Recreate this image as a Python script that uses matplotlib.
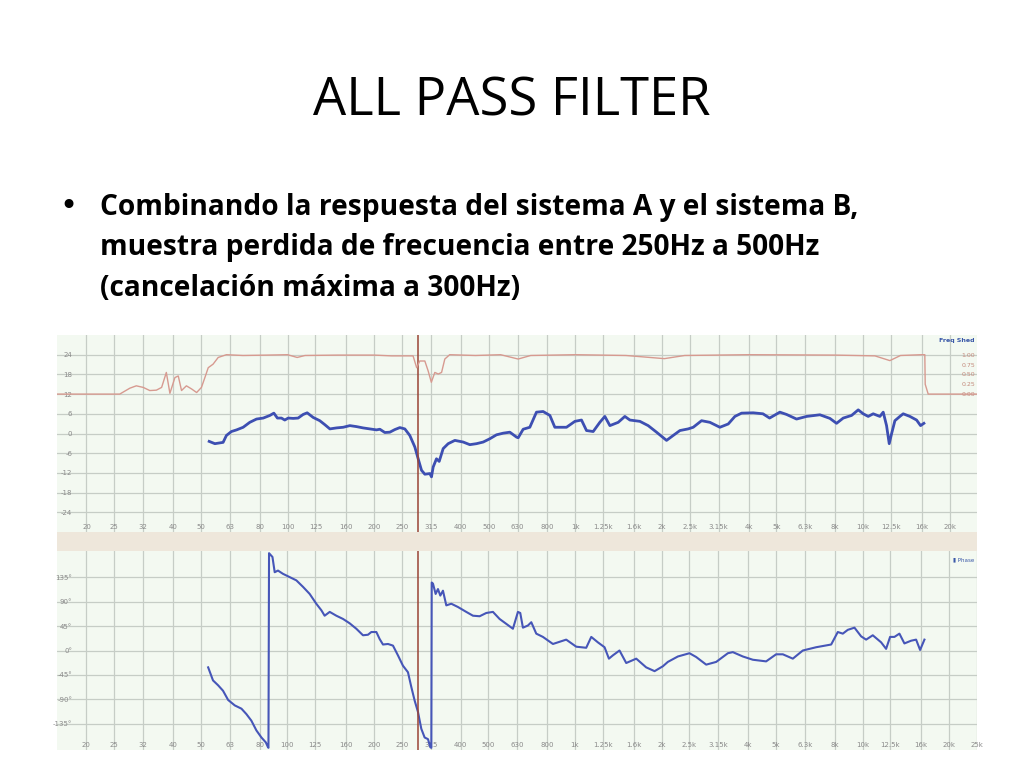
import matplotlib
matplotlib.use("Agg")
import matplotlib.pyplot as plt
from matplotlib.patches import Rectangle

# --- data ---
freq_ticks = [20, 25, 31.5, 40, 50, 63, 80, 100, 125, 160, 200, 250, 315, 400, 500, 630, 800,
              1000, 1250, 1600, 2000, 2500, 3150, 4000, 5000, 6300, 8000, 10000, 12500, 16000, 20000, 25000]
freq_labels = ["20", "25", "32", "40", "50", "63", "80", "100", "125", "160", "200", "250", "315", "400",
               "500", "630", "800", "1k", "1.25k", "1.6k", "2k", "2.5k", "3.15k", "4k", "5k", "6.3k",
               "8k", "10k", "12.5k", "16k", "20k", "25k"]

db_ticks = [24, 18, 12, 6, 0, -6, -12, -18, -24]
phase_ticks = [135, 90, 45, 0, -45, -90, -135]
phase_labels = ["135°", "90°", "45°", "0°", "-45°", "-90°", "-135°"]
coh_ticks = [1.0, 0.75, 0.5, 0.25, 0.0]
coh_labels = ["1.00", "0.75", "0.50", "0.25", "0.00"]

cursor_freq = 284

mag_freq = [53.4, 55.9, 59.7, 61.3, 63.8, 66.5, 70.1, 73.9, 78.0, 82.3, 86.8, 89.6, 92.2, 95.2, 97.8,
            100.5, 104.6, 108.8, 113.3, 117.0, 122.7, 129.4, 134.7, 140.3, 147.9, 156.1, 164.6, 173.6,
            183.1, 193.1, 203.8, 209.3, 217.8, 226.7, 236.0, 245.6, 255.6, 266.0, 276.9, 284.4, 292.1,
            300.0, 312.2, 316.4, 320.7, 329.3, 336.5, 347.4, 361.6, 381.5, 407.6, 430.0, 453.6, 478.6,
            504.7, 532.3, 561.6, 592.3, 624.8, 633.2, 659, 695, 733, 773, 816, 849, 932, 997, 1051,
            1094, 1154, 1217, 1267, 1319, 1410, 1487, 1548, 1677, 1792, 1916, 2076, 2189, 2310, 2468,
            2570, 2747, 2937, 3181, 3401, 3587, 3784, 4154, 4490, 4735, 5141, 5424, 5875, 6366, 7082,
            7673, 8092, 8536, 9125, 9625, 10018, 10425, 10851, 11446, 11756, 12074, 12335, 12567,
            12907, 13432, 13795, 14555, 15352, 15851, 16280]
mag_db = [-2.4, -3.1, -2.7, -0.6, 0.6, 1.1, 1.9, 3.4, 4.4, 4.7, 5.5, 6.2, 4.7, 4.7, 4.1,
          4.7, 4.6, 4.7, 5.8, 6.3, 4.9, 3.9, 2.7, 1.4, 1.7, 1.9, 2.4, 2.1,
          1.7, 1.4, 1.1, 1.3, 0.3, 0.4, 1.2, 1.8, 1.4, -0.6, -4.1, -7.7, -11.2,
          -12.4, -12.2, -13.2, -10.2, -7.7, -8.5, -4.6, -3.1, -2.1, -2.6, -3.4, -3.1, -2.6,
          -1.6, -0.4, 0.1, 0.4, -1.1, -1.3, 1.3, 1.9, 6.5, 6.7, 5.5, 1.9, 1.9, 3.7, 4.1,
          0.9, 0.6, 3.4, 5.2, 2.4, 3.4, 5.2, 4.1, 3.7, 2.4, 0.4, -2.1, -0.6, 0.9, 1.4,
          1.9, 3.9, 3.4, 1.9, 2.9, 5.2, 6.2, 6.3, 6.0, 4.7, 6.5, 5.8, 4.4, 5.2, 5.7,
          4.6, 3.1, 4.7, 5.5, 7.2, 6.0, 5.2, 6.0, 5.2, 6.5, 2.4, -3.1, -0.1,
          3.9, 5.2, 6.0, 5.2, 4.1, 2.4, 3.1]

coh_freq = [15, 26.1, 28.3, 29.8, 31.5, 33.2, 35.0, 36.5, 37.9, 39.0, 40.6, 41.7, 42.8, 44.5, 46.4,
            48.3, 50.2, 51.6, 53.0, 55.1, 57.4, 61.3, 70, 85, 100, 108, 115, 150, 200, 230, 273,
            281, 288, 300, 308, 316, 325, 334, 343, 352, 366, 450, 550, 633, 700, 1000, 1500, 2040,
            2400, 4000, 8000, 11000, 12400, 13500, 16000, 16400, 16450, 16850, 26000]
coh_val = [0.0, 0.0, 0.15, 0.21, 0.17, 0.09, 0.10, 0.17, 0.55, 0.02, 0.42, 0.46, 0.09, 0.21, 0.13,
           0.04, 0.17, 0.42, 0.67, 0.76, 0.93, 1.0, 0.98, 0.99, 1.0, 0.93, 0.98, 0.99, 0.99, 0.97, 0.97,
           0.67, 0.84, 0.84, 0.59, 0.30, 0.55, 0.51, 0.55, 0.89, 1.0, 0.98, 1.0, 0.89, 0.98, 1.0, 0.98, 0.90,
           0.98, 1.0, 0.99, 0.97, 0.85, 0.98, 1.0, 1.0, 0.25, 0.0, 0.0]

phase_freq = [53.0, 55.1, 57.4, 59.7, 62.2, 65.6, 69.2, 72.0, 74.9, 78.0, 81.2, 84.1, 85.6, 85.9, 86.3,
              88.7, 90.3, 92.7, 96.5, 101.8, 107.4, 113.3, 119.5, 126.0, 131.2, 134.7, 140.3, 147.9,
              156.1, 164.6, 173.6, 183.1, 190.6, 195.8, 203.8, 209.3, 214.9, 223.7, 232.8, 242.3, 252.2,
              262.5, 269.6, 276.9, 284.4, 292.1, 300.0, 308.1, 314.0, 316.5, 317.5, 320.7, 327.6, 333.8,
              340.1, 347.4, 356.8, 371.4, 391.7, 418.6, 441.7, 466.0, 491.4, 518.4, 546.7, 576.8, 608.3,
              633.2, 645.1, 659.0, 686.1, 704.7, 733.3, 773.4, 838, 932, 1010, 1094, 1139, 1201, 1267,
              1312, 1354, 1428, 1507, 1633, 1768, 1891, 2021, 2103, 2279, 2501, 2639, 2859, 3097, 3401,
              3539, 3834, 4154, 4620, 5005, 5281, 5721, 6198, 6895, 7777, 8201, 8536, 8885, 9372, 9886,
              10289, 10851, 11603, 12074, 12466, 12907, 13432, 13980, 14751, 15352, 15851, 16411]
phase_deg = [-31, -55, -64, -74, -91, -101, -107, -117, -129, -147, -160, -169, -178, -179, 179,
             172, 144, 147, 141, 135, 129, 117, 104, 86, 74, 64, 71, 64,
             58, 50, 40, 28, 29, 34, 34, 21, 11, 12, 9, -9, -28,
             -40, -67, -92, -113, -144, -160, -163, -178, -179, 125, 123, 104, 113,
             101, 110, 83, 86, 80, 71, 64, 63, 69, 71, 58, 49, 40,
             71, 69, 42, 46, 52, 31, 25, 12, 20, 7, 5, 25, 15, 6,
             -15, -9, 0, -23, -15, -31, -38, -29, -21, -11, -5, -12, -26, -21, -5,
             -3, -11, -17, -20, -7, -7, -15, 0, 6, 11, 34, 31, 38, 42, 26,
             20, 28, 15, 3, 25, 25, 31, 13, 18, 20, 1, 20]

# --- figure ---
W, H = 1024, 768
fig = plt.figure(figsize=(W / 100, H / 100), dpi=100)
fig.patch.set_facecolor("white")


def px_box(x0, y0, x1, y1):
    return [x0 / W, 1 - y1 / H, (x1 - x0) / W, (y1 - y0) / H]


def fit_width(txt, target):
    r = fig.canvas.get_renderer()
    w = txt.get_window_extent(renderer=r).width
    txt.set_fontsize(txt.get_fontsize() * target / w)


title = fig.text(512 / W, 1 - 115 / H, "ALL PASS FILTER", ha="center", va="baseline",
                 fontsize=40, family=["Open Sans", "DejaVu Sans"], color="black")
fit_width(title, 397)

bullet_lines = ["Combinando la respuesta del sistema A y el sistema B,",
                "muestra perdida de frecuencia entre 250Hz a 500Hz",
                "(cancelación máxima a 300Hz)"]
baselines = [215, 255, 296]
first = None
for line, yb in zip(bullet_lines, baselines):
    t = fig.text(100 / W, 1 - yb / H, line, ha="left", va="baseline", fontsize=24,
                 fontweight="bold", family=["Open Sans", "DejaVu Sans"], color="black")
    if first is None:
        first = t
fit_width(first, 758)
for t in fig.texts[2:]:
    t.set_fontsize(first.get_fontsize())
fig.text(68 / W, 1 - 207 / H, "•", ha="center", va="center", fontsize=22, color="black")

bg = "#f3f9f1"
grid_c = "#c6cdc6"
lab_c = "#8a8a8a"
xlim = (15.8, 24900)

# beige band between the two panels
fig.add_artist(Rectangle((57 / W, 1 - 551 / H), 920 / W, 19 / H, transform=fig.transFigure,
                         facecolor="#eee7db", edgecolor="none"))

ax1 = fig.add_axes(px_box(57, 335, 977, 532))
ax2 = fig.add_axes(px_box(57, 551, 977, 750))

for ax in (ax1, ax2):
    ax.set_facecolor(bg)
    ax.set_xscale("log")
    ax.set_xlim(*xlim)
    ax.set_xticks(freq_ticks, freq_labels, fontsize=5, color=lab_c)
    ax.minorticks_off()
    ax.tick_params(axis="x", length=0, pad=-5.5)
    ax.tick_params(axis="y", length=0, pad=-11)
    ax.grid(True, color=grid_c, linewidth=0.9)
    ax.set_axisbelow(True)
    for s in ax.spines.values():
        s.set_visible(False)
    ax.axvline(cursor_freq, color="#9a4436", linewidth=1.1, zorder=4)

# magnitude + coherence
ax1.set_ylim(-30, 30)
ax1.set_yticks(db_ticks, [str(v) for v in db_ticks], fontsize=5, color=lab_c)
ax1.plot(mag_freq, mag_db, color="#3d4fb2", linewidth=2.0, zorder=3)

axc = ax1.twinx()
axc.set_ylim((-30 - 12) / 12, (30 - 12) / 12)
axc.set_yticks(coh_ticks, coh_labels, fontsize=4.5, color="#c48a7c", ha="right")
axc.tick_params(axis="y", length=0, pad=-1.5)
for s in axc.spines.values():
    s.set_visible(False)
axc.plot(coh_freq, coh_val, color="#d79a90", linewidth=1.0, zorder=2)
axc.set_xlim(*xlim)
axc.text(0.997, 0.985, "Freq Shed", transform=axc.transAxes, ha="right", va="top",
         fontsize=4.5, fontweight="bold", color="#3a58a8")

# phase
ax2.set_ylim(-183, 183)
ax2.set_yticks(phase_ticks, phase_labels, fontsize=5, color=lab_c)
ax2.plot(phase_freq, phase_deg, color="#4656b8", linewidth=1.5, zorder=3)
ax2.text(0.997, 0.97, "▮ Phase", transform=ax2.transAxes, ha="right", va="top",
         fontsize=4, color="#3a58a8")

fig.savefig("out.png", dpi=100, facecolor="white")
